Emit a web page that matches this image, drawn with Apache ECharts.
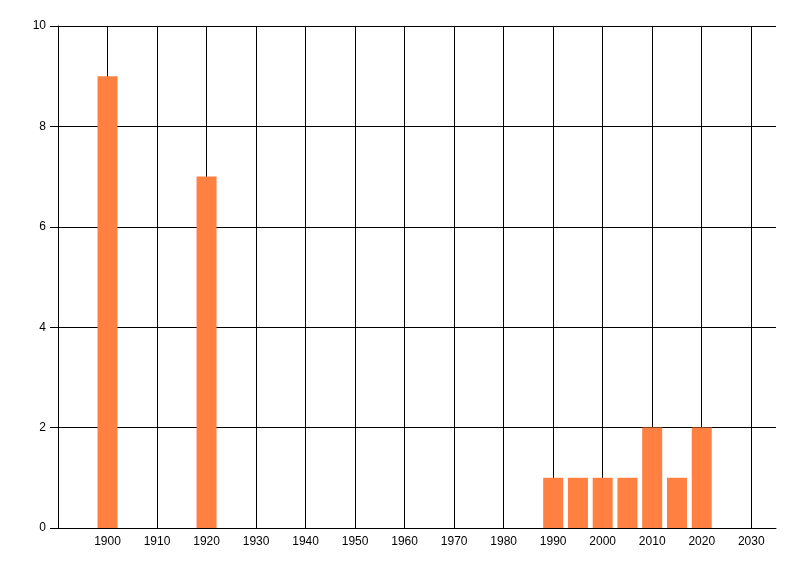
<!DOCTYPE html>
<html>
<head>
<meta charset="utf-8">
<script src="https://cdn.jsdelivr.net/npm/echarts@6/dist/echarts.min.js"></script>
<style>
  html, body { margin: 0; padding: 0; background: #fff; }
  #chart { width: 800px; height: 576px; }
</style>
</head>
<body>
<div id="chart"></div>
<script>
  // years and counts
  var years = [1900, 1920, 1990, 1995, 2000, 2005, 2010, 2015, 2020];
  var counts = [9, 7, 1, 1, 1, 1, 2, 1, 2];
  var xMin = 1890, xMax = 2035, xStep = 10;
  var yMin = 0, yMax = 10, yStep = 2;

  var barData = years.map(function (y, i) { return [y, counts[i]]; });

  // one split line per tick, last one (right edge) hidden
  var nLines = Math.floor((xMax - xMin) / xStep) + 2;
  var gridColors = [];
  for (var i = 0; i < nLines; i++) gridColors.push(i === nLines - 1 ? 'transparent' : '#000');

  var chart = echarts.init(document.getElementById('chart'));
  chart.setOption({
    animation: false,
    textStyle: { fontFamily: 'Liberation Sans, Arial, sans-serif' },
    grid: { left: 58, right: 24, top: 26, bottom: 48, containLabel: false },
    xAxis: {
      type: 'value',
      min: xMin,
      max: xMax,
      interval: xStep,
      axisLine: { show: true, lineStyle: { color: '#000', width: 1 } },
      axisTick: { show: false },
      axisLabel: {
        color: '#000', fontSize: 12, margin: 8,
        showMinLabel: false, showMaxLabel: false,
        formatter: function (v) { return (v === xMin || v === xMax) ? '' : String(v); }
      },
      splitLine: { show: true, lineStyle: { color: gridColors, width: 1 } }
    },
    yAxis: {
      type: 'value',
      min: yMin,
      max: yMax,
      interval: yStep,
      axisLine: { show: true, lineStyle: { color: '#000', width: 1 } },
      axisTick: { show: true, length: 8, lineStyle: { color: '#000' } },
      axisLabel: { color: '#000', fontSize: 12, margin: 12 },
      splitLine: { show: true, lineStyle: { color: '#000', width: 1 } }
    },
    series: [{
      type: 'bar',
      data: barData,
      barWidth: 20,
      itemStyle: { color: '#FF8040' }
    }]
  });
</script>
</body>
</html>
